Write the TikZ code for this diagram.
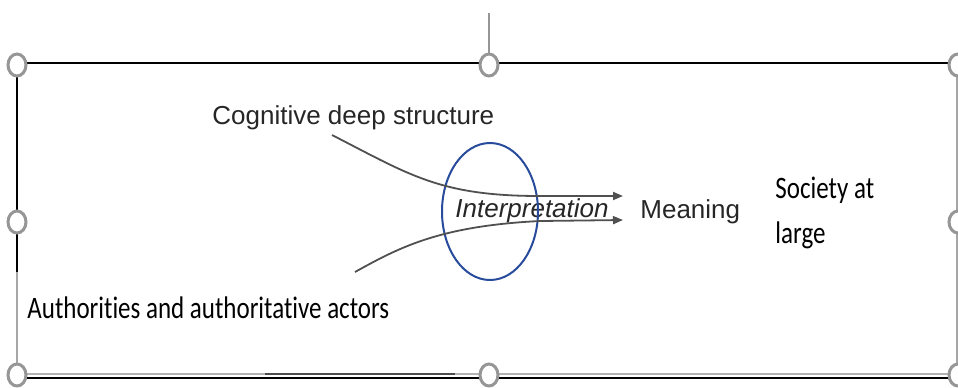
\documentclass[tikz,border=0pt]{standalone}
\usepackage{fontspec}
\setmainfont{Liberation Sans}
\newfontfamily\carlito[Ligatures=NoCommon]{Carlito}
\usetikzlibrary{arrows.meta}
\definecolor{ringblue}{RGB}{40,75,155}
\definecolor{handlegray}{RGB}{150,150,150}
\definecolor{flowgray}{RGB}{80,80,80}
\newcommand{\tallbox}[1]{\scalebox{1}[1.25]{#1}}

\begin{document}
\begin{tikzpicture}[x=0.5pt,y=-0.5pt,
    handle/.style={draw=handlegray,line width=1.5pt,fill=white},
    flow/.style={draw=flowgray,line width=0.9pt,-{Triangle[length=5pt,width=4pt]}},
    arial/.style={font=\fontsize{13}{15}\selectfont,text=black!85,inner sep=0pt},
    calib/.style={font=\carlito\fontsize{12.5}{22.5}\selectfont,inner sep=0pt,align=left}]
        \useasboundingbox (0,0) rectangle (958,387);

        % Draw the frame
        \draw[black,line width=1pt] (17,63) -- (958,63);
        \draw[black,line width=1pt] (17,63) -- (17,272);
        \draw[black!35,line width=0.6pt] (17,272) -- (17,375);
        \draw[black!35,line width=0.6pt] (957,63) -- (957,387);
        \draw[black!30,line width=0.8pt] (17,374) -- (958,374);
        \draw[black!70,line width=0.8pt] (265,374) -- (455,374);
        \draw[black,line width=1pt] (17,378) -- (958,378);
        \draw[handlegray,line width=0.6pt] (489,13) -- (489,53);

        % Labels
        \node[arial,anchor=base west] (cds) at (212,124) {Cognitive deep structure};
        \node[arial,anchor=base west] (interp) at (455,217) {\itshape Interpretation};
        \node[arial,anchor=base west] (meaning) at (640,218) {Meaning};
        \node[calib,anchor=base west] (society) at (775,243) {\tallbox{Society at}\\\tallbox{large}};
        \node[calib,anchor=base west] (auth) at (27,318) {\tallbox{Authorities and authoritative actors}};

        % Draw the ring
        \draw[ringblue,line width=1pt] (490,211.5) ellipse (48 and 68.5);

        % Draw the arrows
        \coordinate (cds-start) at (332,135);
        \coordinate (auth-start) at (355,272);
        \coordinate (tip-a) at (623,196);
        \coordinate (tip-b) at (623,220);
        %cognitive
        \draw[flow] (cds-start) .. controls (410,175) and (440,196) .. (540,196) -- (tip-a);
        %authorities
        \draw[flow] (auth-start) .. controls (400,247) and (440,226) .. (540,221) -- (tip-b);

        % Draw the handles
        \foreach \hx/\hy in {17/65, 489/65, 958/65, 17/222, 958/222, 17/375, 489/375, 958/375}
            \draw[handle] (\hx,\hy) ellipse (9 and 11);
    \end{tikzpicture}
\end{document}
